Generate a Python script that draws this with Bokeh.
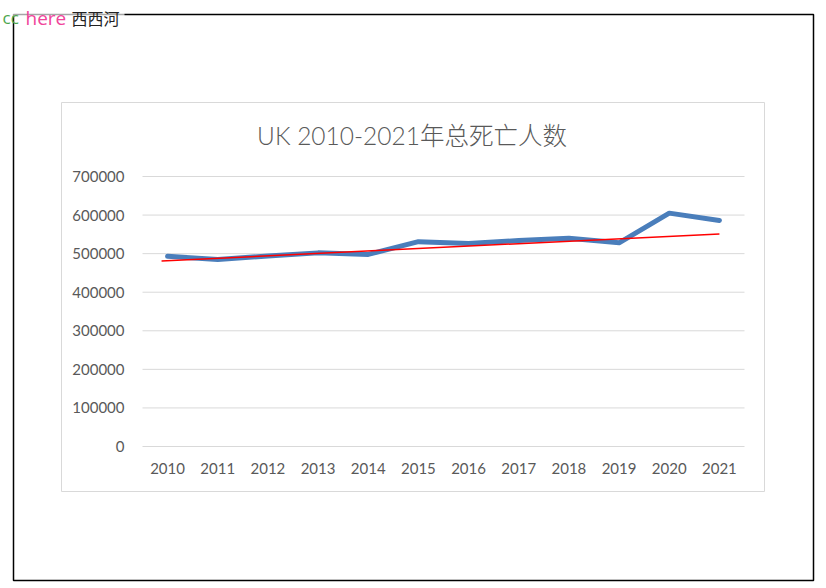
from bokeh.plotting import figure
from bokeh.models import (Range1d, FixedTicker, NumeralTickFormatter, BoxAnnotation, Label)
from bokeh.embed import file_html
from bokeh.resources import INLINE

# ---- data ----
years = [2010, 2011, 2012, 2013, 2014, 2015, 2016, 2017, 2018, 2019, 2020, 2021]
deaths = [493000, 485000, 494000, 502000, 498000, 531000, 526000, 534000, 540000, 528000, 605000, 586000]
trend_years = [2009.88, 2021]
trend_vals = [481000, 551000]
y_ticks = [0, 100000, 200000, 300000, 400000, 500000, 600000, 700000]
title_text = "UK 2010-2021年总死亡人数"

# ---- layout (pixels) ----
W, H = 824, 586
AREA_L, AREA_R, AREA_T, AREA_B = 142, 744, 176, 446   # plotting area in pixels
X0, X1 = years[0] - 0.5, years[-1] + 0.5
Y0, Y1 = y_ticks[0], y_ticks[-1]
xpp = (X1 - X0) / (AREA_R - AREA_L)
ypp = (Y1 - Y0) / (AREA_B - AREA_T)
x_start = X0 - AREA_L * xpp
x_end = X1 + (W - AREA_R) * xpp
y_end = Y1 + AREA_T * ypp
y_start = Y0 - (H - AREA_B) * ypp

def px2x(px):
    return x_start + px * xpp

def px2y(py):
    return y_end - py * ypp

p = figure(width=W, height=H, output_backend="svg", toolbar_location=None,
           x_range=Range1d(x_start, x_end), y_range=Range1d(y_start, y_end),
           min_border=0, background_fill_color="white", border_fill_color="white")
p.outline_line_color = None

GRAY_TXT = "#595959"
p.xgrid.grid_line_color = None
p.ygrid.grid_line_color = None

p.yaxis.ticker = FixedTicker(ticks=y_ticks)
p.yaxis.formatter = NumeralTickFormatter(format="0")
p.xaxis.ticker = FixedTicker(ticks=years)
p.yaxis.fixed_location = X0
p.xaxis.fixed_location = Y0
for ax in (p.xaxis, p.yaxis):
    ax.axis_line_color = None
    ax.major_tick_line_color = None
    ax.minor_tick_line_color = None
    ax.major_tick_in = 0
    ax.major_tick_out = 0
    ax.major_label_text_font = "Lato"
    ax.major_label_text_font_size = "15px"
    ax.major_label_text_color = GRAY_TXT
p.yaxis.major_label_standoff = 18
p.xaxis.major_label_standoff = 16

# horizontal gridlines limited to the plotting area
p.segment(x0=[X0] * len(y_ticks), x1=[X1] * len(y_ticks), y0=y_ticks, y1=y_ticks,
          line_color="#D9D9D9", line_width=1, level="underlay")

# chart-area border (light gray) and outer frame (black)
p.add_layout(BoxAnnotation(left=px2x(61), right=px2x(764), top=px2y(102), bottom=px2y(491),
                           fill_alpha=0, line_color="#D9D9D9", line_alpha=1, line_width=1))
p.add_layout(BoxAnnotation(left=px2x(13), right=px2x(813), top=px2y(14), bottom=px2y(580),
                           fill_alpha=0, line_color="black", line_alpha=1, line_width=1.5))
p.add_layout(BoxAnnotation(left=px2x(0), right=px2x(124), top=px2y(0), bottom=px2y(15.5),
                           fill_color="white", fill_alpha=0.65, line_alpha=0))

# data
p.line(years, deaths, line_width=5, line_color="#4A7EBB", line_join="round", line_cap="round")
p.line(trend_years, trend_vals, line_width=1.5, line_color="#FF0000")

# title
p.add_layout(Label(x=px2x(411.5), y=px2y(135), text=title_text,
                   text_align="center", text_baseline="middle",
                   text_font="'Lato Light', 'Noto Sans CJK SC Light', 'Noto Sans CJK SC'",
                   text_font_size="24.5px", text_color=GRAY_TXT))

# header watermark
p.add_layout(Label(x=px2x(2), y=px2y(17), text="cc",
                   text_baseline="alphabetic", text_font="Open Sans", text_font_size="17px",
                   text_color="#4CA64C"))
p.add_layout(Label(x=px2x(25), y=px2y(17), text="here",
                   text_baseline="alphabetic", text_font="Open Sans", text_font_size="19px",
                   text_color="#F0449A"))
p.add_layout(Label(x=px2x(71), y=px2y(17), text="西西河",
                   text_baseline="alphabetic", text_font="Noto Sans CJK SC", text_font_size="16px",
                   text_color="#222222"))

open("out.html", "w").write(file_html(p, INLINE))
